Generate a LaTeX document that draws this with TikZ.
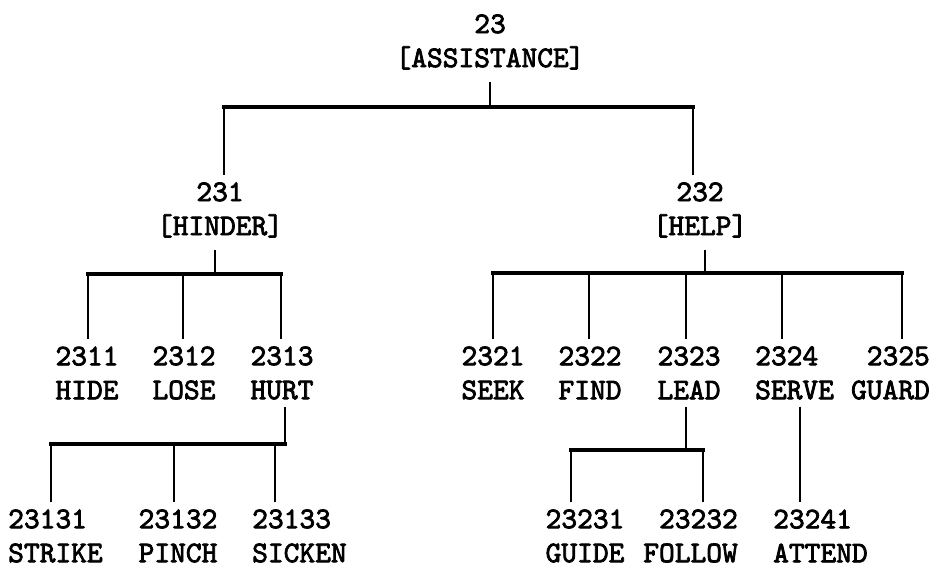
\documentclass[tikz,border=0pt]{standalone}
\usepackage{fontspec}
\newfontfamily\twfont{lmmono10-regular.otf}[RawFeature={embolden=2.5}]
\begin{document}
\begin{tikzpicture}[x=1pt,y=-1pt,
  lbl/.style={font=\fontsize{30}{34}\selectfont\twfont, align=center, inner xsep=0pt, inner ysep=7pt},
  lblL/.style={lbl, align=left, anchor=west},
  lblR/.style={lbl, align=right, anchor=east},
  vl/.style={line width=2.4pt},
  barline/.style={line width=3.4pt, line cap=rect}]
\fill[white] (0,0) rectangle (935,568);
\useasboundingbox (0,0) rectangle (935,568);

% nodes
\node[lbl] (n23) at (490,42) {23\\{[}ASSISTANCE{]}};
\node[lbl] (n231) at (220,210) {231\\{[}HINDER{]}};
\node[lbl] (n232) at (700,210) {232\\{[}HELP{]}};

\node[lbl] (n2311) at (87,373) {2311\\HIDE};
\node[lbl] (n2312) at (184,373) {2312\\LOSE};
\node[lbl] (n2313) at (282,373) {2313\\HURT};

\node[lbl] (n2321) at (493,373) {2321\\SEEK};
\node[lbl] (n2322) at (590,373) {2322\\FIND};
\node[lbl] (n2323) at (689,373) {2323\\LEAD};
\node[lblL] (n2324) at (755,373) {2324\\SERVE};
\node[lblR] (n2325) at (930,373) {2325\\GUARD};

\node[lblL] (n23131) at (8,536) {23131\\STRIKE};
\node[lbl] (n23132) at (178,536) {23132\\PINCH};
\node[lblL] (n23133) at (252,536) {23133\\SICKEN};

\node[lbl] (n23231) at (585,536) {23231\\GUIDE};
\node[lblR] (n23232) at (738,536) {23232\\FOLLOW};
\node[lblL] (n23241) at (773,536) {23241\\ATTEND};

% junction coordinates
\coordinate (j23) at (490,107);
\coordinate (c231) at (224,107);
\coordinate (c232) at (693,107);

\coordinate (j231) at (215,274);
\coordinate (c2311) at (88,274);
\coordinate (c2312) at (183,274);
\coordinate (c2313) at (281,274);

\coordinate (j232) at (705,273);
\coordinate (c2321) at (493,273);
\coordinate (c2322) at (589,273);
\coordinate (c2323) at (686,273);
\coordinate (c2324) at (782,273);
\coordinate (c2325) at (902,273);

\coordinate (j2313) at (285,444);
\coordinate (c23131) at (51,444);
\coordinate (c23132) at (174,444);
\coordinate (c23133) at (275,444);

\coordinate (j2323) at (686,450);
\coordinate (c23231) at (571,450);
\coordinate (c23232) at (703,450);

\coordinate (j2324) at (800,450);

% level 0 -> 1
\draw[vl] ([yshift=-5pt]j23 |- n23.south) -- (j23);
\draw[barline] (c231) -- (c232);
\draw[vl] (c231) -- (c231 |- n231.north);
\draw[vl] (c232) -- (c232 |- n232.north);

% HINDER
\draw[vl] ([yshift=-5pt]j231 |- n231.south) -- (j231);
\draw[barline] (c2311) -- (c2313);
\draw[vl] (c2311) -- (c2311 |- n2311.north);
\draw[vl] (c2312) -- (c2312 |- n2312.north);
\draw[vl] (c2313) -- (c2313 |- n2313.north);

% HELP
\draw[vl] ([yshift=-5pt]j232 |- n232.south) -- (j232);
\draw[barline] (c2321) -- (c2325);
\draw[vl] (c2321) -- (c2321 |- n2321.north);
\draw[vl] (c2322) -- (c2322 |- n2322.north);
\draw[vl] (c2323) -- (c2323 |- n2323.north);
\draw[vl] (c2324) -- (c2324 |- n2324.north);
\draw[vl] (c2325) -- (c2325 |- n2325.north);

% HURT
\draw[vl] (j2313 |- n2313.south) -- (j2313);
\draw[barline] (c23131) -- (j2313);
\draw[vl] (c23131) -- (c23131 |- n23131.north);
\draw[vl] (c23132) -- (c23132 |- n23132.north);
\draw[vl] (c23133) -- (c23133 |- n23133.north);

% LEAD
\draw[vl] (j2323 |- n2323.south) -- (j2323);
\draw[barline] (c23231) -- (c23232);
\draw[vl] (c23231) -- (c23231 |- n23231.north);
\draw[vl] (c23232) -- (c23232 |- n23232.north);

% SERVE
\draw[vl] (j2324 |- n2324.south) -- (j2324 |- n23241.north);
\end{tikzpicture}
\end{document}
